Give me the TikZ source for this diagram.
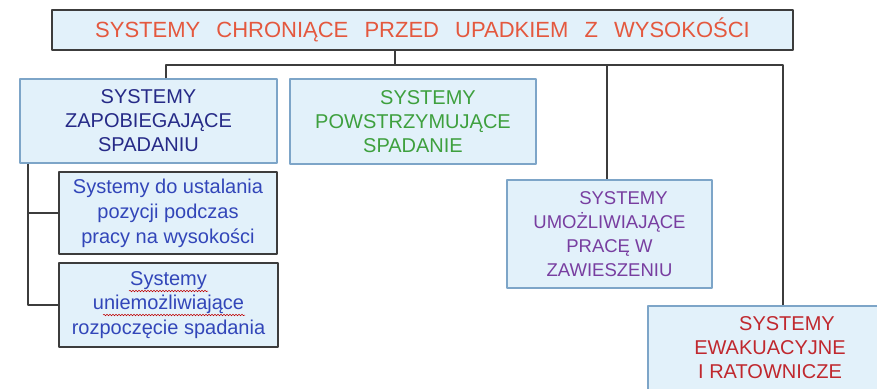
\documentclass[tikz,border=0pt]{standalone}
\usepackage{fontspec}
\setmainfont{Liberation Sans}
\usetikzlibrary{decorations.pathmorphing}
\definecolor{boxfill}{RGB}{226,241,250}
\definecolor{lineblue}{RGB}{125,165,200}
\definecolor{darkline}{RGB}{60,60,60}
\definecolor{titlered}{RGB}{228,88,62}
\definecolor{navy}{RGB}{38,42,135}
\definecolor{midblue}{RGB}{50,70,185}
\definecolor{leafgreen}{RGB}{62,160,62}
\definecolor{violet}{RGB}{120,62,160}
\definecolor{darkred}{RGB}{192,40,46}

\begin{document}
\begin{tikzpicture}[x=1pt, y=-1pt, line join=round,
    box/.style={draw=lineblue, fill=boxfill, line width=1.2pt, inner sep=0pt,
        align=center, font=\fontsize{20}{24}\selectfont},
    darkbox/.style={box, draw=darkline, line width=1.7pt},
    link/.style={draw=darkline, line width=1.6pt},
    spell/.style={draw=red!75!black, line width=0.5pt, decorate,
        decoration={snake, amplitude=0.8pt, segment length=3pt}}]
    \useasboundingbox (0,0) rectangle (877,388);
    \clip (0,0) rectangle (877,388);
    % boxes
    \node[darkbox, minimum width=741, minimum height=40, text=titlered,
        font=\fontsize{22}{26}\selectfont] (top) at (422.5,30)
        {SYSTEMY\hspace{10pt} CHRONIĄCE\hspace{10pt} PRZED\hspace{10pt} UPADKIEM\hspace{10pt} Z\hspace{10pt} WYSOKOŚCI};
    \node[box, minimum width=257, minimum height=84, text=navy] (zapob) at (148.5,121)
        {SYSTEMY\\ZAPOBIEGAJĄCE\\SPADANIU};
    \node[box, minimum width=246, minimum height=85, text=leafgreen] (powstrz) at (413,121.5)
        {\hspace*{30pt}SYSTEMY\\POWSTRZYMUJĄCE\\SPADANIE};
    \node[darkbox, minimum width=218, minimum height=82, text=midblue,
        font=\fontsize{20}{25}\selectfont] (ustal) at (168,213)
        {Systemy do ustalania\\pozycji podczas\\pracy na wysokości};
    \node[darkbox, minimum width=219, minimum height=84, text=midblue,
        font=\fontsize{20}{24.5}\selectfont] (uniem) at (168.5,305)
        {Systemy\\uniemożliwiające\\rozpoczęcie spadania};
    \node[box, minimum width=205, minimum height=108, text=violet,
        font=\fontsize{18.5}{24}\selectfont] (zawies) at (609.5,234)
        {\hspace*{28pt}SYSTEMY\\UMOŻLIWIAJĄCE\\PRACĘ W\\ZAWIESZENIU};
    \node[box, minimum width=244, minimum height=84, text=darkred] (ewak) at (770,348)
        {\hspace*{34pt}SYSTEMY\\EWAKUACYJNE\\I RATOWNICZE};
    % spell-check marks
    \draw[spell] (129,291) -- (208,291);
    \draw[spell] (103,315) -- (245,315);
    % connectors
    \coordinate (h0) at (395,65);
    \coordinate (h1) at (166,65);
    \coordinate (h4) at (607,65);
    \coordinate (h5) at (783,65);
    \coordinate (v) at (28,0);
    \draw[link] (top.south -| h0) -- (h0);
    \draw[link] (zapob.north -| h1) -- (h1) -- (h5) -- (h5 |- ewak.north);
    \draw[link] (h4) -- (h4 |- zawies.north);
    \draw[link] (v |- zapob.south) |- (uniem.west);
    \draw[link] (v |- ustal.west) -- (ustal.west);
\end{tikzpicture}
\end{document}
